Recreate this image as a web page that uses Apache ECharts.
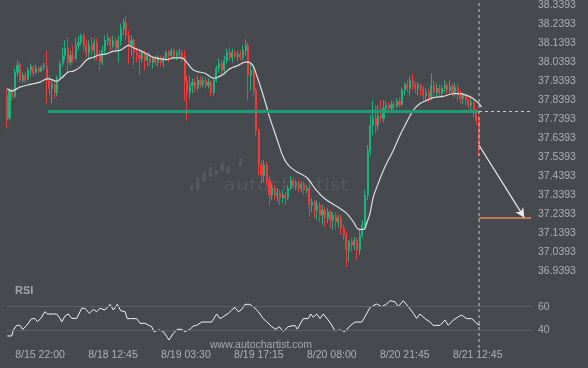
<!DOCTYPE html>
<html><head><meta charset="utf-8">
<script src="https://cdn.jsdelivr.net/npm/echarts@6/dist/echarts.min.js"></script>
<style>html,body{margin:0;padding:0;background:#464a4f;}#c{width:588px;height:368px;}</style>
</head><body><div id="c"></div>
<script>
// 15-minute bar index: 0 = 8/15 22:00; candles every 2 bars starting at -25
const candleStart = -25;
const candleStep = 2;
const open = [37.866,37.746,37.893,37.861,37.987,38.029,37.945,37.971,37.950,37.998,
38.014,37.987,38.008,37.992,38.014,38.019,37.945,37.903,37.924,37.882,
37.956,38.034,38.076,38.113,38.040,38.076,38.061,38.129,38.145,38.181,
38.129,38.092,38.129,38.103,38.145,38.076,38.040,38.103,38.155,38.166,
38.129,38.155,38.113,38.155,38.218,38.250,38.181,38.129,38.155,38.092,
38.076,38.061,38.092,38.050,38.076,38.040,38.061,38.040,38.066,38.040,
38.061,38.092,38.076,38.103,38.071,38.087,38.092,38.071,37.945,37.882,
37.919,37.935,37.903,37.945,37.924,37.945,37.919,37.935,37.882,37.945,
38.008,38.034,37.998,38.050,38.092,38.066,38.092,38.071,38.082,38.066,
38.103,38.129,37.971,37.998,37.893,37.683,37.499,37.446,37.499,37.420,
37.341,37.378,37.341,37.352,37.326,37.341,37.326,37.378,37.420,37.394,
37.404,37.378,37.394,37.368,37.378,37.289,37.305,37.263,37.289,37.236,
37.263,37.221,37.252,37.210,37.236,37.200,37.221,37.168,37.131,37.053,
37.095,37.079,37.105,37.053,37.131,37.184,37.341,37.578,37.709,37.746,
37.709,37.761,37.746,37.798,37.814,37.798,37.819,37.809,37.835,37.819,
37.893,37.924,37.903,37.945,37.919,37.903,37.919,37.893,37.866,37.882,
37.856,37.919,37.882,37.903,37.877,37.903,37.919,37.893,37.914,37.882,
37.908,37.866,37.851,37.866,37.840,37.814,37.830,37.777,37.735];
const close = [37.735,37.893,37.856,37.987,38.024,37.945,37.971,37.945,37.998,38.019,
37.982,38.008,37.992,38.014,38.024,37.945,37.903,37.924,37.882,37.956,
38.034,38.076,38.113,38.040,38.076,38.061,38.129,38.145,38.181,38.129,
38.092,38.129,38.103,38.145,38.076,38.040,38.103,38.155,38.166,38.129,
38.155,38.113,38.155,38.218,38.250,38.181,38.129,38.155,38.092,38.076,
38.061,38.092,38.050,38.076,38.040,38.061,38.040,38.066,38.040,38.061,
38.092,38.076,38.103,38.071,38.087,38.092,38.061,37.945,37.882,37.919,
37.935,37.903,37.945,37.924,37.945,37.919,37.935,37.882,37.945,38.008,
38.034,37.998,38.050,38.092,38.066,38.092,38.071,38.082,38.066,38.103,
38.129,37.971,37.998,37.893,37.683,37.499,37.446,37.499,37.420,37.341,
37.378,37.341,37.352,37.326,37.341,37.326,37.378,37.420,37.394,37.404,
37.378,37.394,37.368,37.378,37.289,37.305,37.263,37.289,37.236,37.263,
37.221,37.252,37.210,37.236,37.200,37.221,37.168,37.131,37.053,37.095,
37.079,37.105,37.053,37.131,37.184,37.341,37.578,37.709,37.746,37.709,
37.761,37.746,37.798,37.814,37.798,37.819,37.809,37.835,37.819,37.893,
37.924,37.903,37.945,37.919,37.903,37.919,37.893,37.866,37.882,37.856,
37.919,37.882,37.903,37.877,37.903,37.919,37.893,37.914,37.882,37.908,
37.866,37.851,37.866,37.840,37.814,37.830,37.777,37.735,37.604];
const low = [37.693,37.735,37.840,37.851,37.966,37.935,37.929,37.929,37.945,37.971,
37.966,37.977,37.982,37.987,37.998,37.824,37.866,37.824,37.851,37.861,
37.945,38.019,38.050,37.987,38.024,38.040,38.050,38.103,38.129,38.103,
38.066,38.061,38.076,38.050,38.050,37.998,38.024,38.087,38.129,38.103,
38.113,38.092,38.040,38.129,38.181,38.155,38.034,38.076,38.024,38.040,
37.971,38.040,37.998,38.019,38.019,38.008,38.024,38.019,38.019,38.014,
38.050,38.040,38.066,38.050,38.050,38.061,38.040,37.840,37.735,37.851,
37.877,37.882,37.893,37.908,37.908,37.903,37.903,37.861,37.866,37.935,
37.987,37.977,37.987,38.034,38.050,38.040,38.061,38.050,38.050,38.050,
38.076,37.840,37.893,37.866,37.656,37.446,37.404,37.410,37.394,37.289,
37.315,37.315,37.305,37.289,37.299,37.289,37.315,37.368,37.378,37.368,
37.357,37.357,37.341,37.352,37.226,37.252,37.221,37.210,37.200,37.184,
37.173,37.194,37.168,37.158,37.158,37.168,37.131,37.105,36.963,36.990,
37.042,37.053,37.000,37.026,37.116,37.158,37.315,37.551,37.656,37.667,
37.683,37.725,37.725,37.777,37.777,37.788,37.788,37.798,37.803,37.809,
37.866,37.882,37.866,37.893,37.877,37.866,37.866,37.840,37.840,37.830,
37.840,37.856,37.856,37.856,37.861,37.882,37.872,37.877,37.861,37.856,
37.840,37.824,37.819,37.814,37.798,37.788,37.751,37.709,37.541];
const high = [37.903,37.903,37.908,38.008,38.050,38.040,37.987,37.987,38.014,38.034,
38.024,38.029,38.019,38.024,38.040,38.103,37.971,37.945,37.945,37.971,
38.050,38.118,38.155,38.171,38.103,38.129,38.166,38.181,38.192,38.192,
38.155,38.155,38.171,38.166,38.166,38.103,38.129,38.181,38.192,38.176,
38.181,38.171,38.181,38.244,38.271,38.286,38.208,38.181,38.166,38.113,
38.103,38.103,38.103,38.092,38.092,38.071,38.076,38.076,38.076,38.076,
38.103,38.103,38.113,38.113,38.103,38.113,38.103,38.103,37.971,37.971,
37.956,37.956,37.971,37.966,37.966,37.961,37.956,37.945,37.956,38.024,
38.061,38.050,38.076,38.113,38.118,38.113,38.103,38.103,38.103,38.129,
38.160,38.145,38.040,38.024,37.903,37.693,37.525,37.525,37.515,37.441,
37.404,37.394,37.378,37.368,37.368,37.357,37.394,37.441,37.436,37.420,
37.420,37.410,37.410,37.394,37.394,37.326,37.315,37.315,37.305,37.289,
37.278,37.273,37.263,37.252,37.252,37.236,37.236,37.184,37.147,37.105,
37.116,37.121,37.116,37.158,37.210,37.368,37.604,37.761,37.840,37.814,
37.814,37.840,37.840,37.835,37.830,37.840,37.840,37.851,37.856,37.908,
37.935,37.945,37.966,37.977,37.935,37.935,37.929,37.914,37.903,37.903,
37.982,37.945,37.929,37.924,37.919,37.945,37.935,37.945,37.929,37.935,
37.924,37.893,37.882,37.877,37.856,37.851,37.840,37.798,37.761];

const maIdx = [-24.7,-21.3,-15.1,-7.5,0,5.8,8.8,12.6,16.4,21.3,25.1,30.2,35.2,40.2,45.2,50.3,55.3,60.3,64.1,66.6,
70.3,75.4,80.4,85.4,90.5,95.5,100.5,106.8,110.6,114.4,118.1,124.4,130.7,133.2,138.2,143.2,149.5,154.5,157.0,160.4,
163.4,167.1,170.9,173.4,175.9,179.7,183.4,187.2,193.5,201.1,207.3,213.6,219.9,226.2,231.2,236.2,240.5,244.3,246.3,248.8,
251.3,255.0,260.1,266.4,271.4,276.5,281.4,286.5,291.5,296.5,304.0,311.6,316.6,321.7,326.7,330.4,333.0];
const maVal = [37.901,37.889,37.910,37.924,37.936,37.954,37.949,37.940,37.959,37.989,37.994,38.015,38.054,38.067,38.080,38.085,38.099,38.103,38.120,38.129,
38.117,38.103,38.085,38.067,38.059,38.054,38.064,38.064,38.041,38.007,37.992,37.983,37.957,37.959,37.977,38.007,38.024,38.041,38.041,38.024,
37.971,37.893,37.805,37.744,37.693,37.614,37.542,37.499,37.464,37.434,37.376,37.329,37.298,37.271,37.245,37.201,37.161,37.161,37.193,37.245,
37.332,37.403,37.490,37.578,37.656,37.726,37.788,37.823,37.840,37.854,37.861,37.875,37.875,37.866,37.849,37.826,37.805];

const rsiIdx = [-24.7,-21.3,-20.1,-17.6,-15.1,-13.0,-10.0,-6.3,-3.8,-2.0,0.5,3.8,5.5,7.5,10.0,12.6,15.1,16.4,18.8,21.3,
23.9,27.7,31.4,33.9,37.2,40.2,42.7,45.2,49.0,52.8,55.3,58.3,60.8,64.1,65.8,69.1,72.9,75.4,79.2,81.6,
84.2,85.9,89.9,93.0,97.3,100.5,103.5,106.8,109.3,113.1,115.6,118.1,121.9,125.7,129.4,133.2,135.7,138.2,142.0,144.5,
147.0,149.5,152.1,154.5,158.3,162.1,164.6,168.3,170.9,174.7,177.9,180.4,183.4,187.2,188.5,192.2,194.0,198.5,202.3,204.1,
206.0,208.6,211.1,213.6,217.3,219.9,222.4,226.2,229.9,233.7,237.5,242.5,245.0,248.8,253.8,257.6,261.4,263.9,267.6,270.1,
273.9,277.7,281.4,284.0,286.5,290.3,294.0,296.5,301.6,305.3,307.8,311.6,315.4,317.9,321.7,325.5,329.2,331.7];
const rsiVal = [35.2,35.2,40.3,44.2,44.2,40.8,44.2,49.9,49.9,47.3,49.9,55.8,53.8,53.8,53.8,53.8,50.1,47.0,52.1,53.8,
50.1,50.1,58.6,58.6,54.4,57.7,55.8,58.6,57.2,62.0,57.2,62.0,56.6,55.8,49.9,49.9,49.9,45.9,45.9,44.5,
43.1,38.9,40.3,38.9,31.8,37.5,40.8,40.8,38.9,40.8,43.7,44.2,47.0,47.0,47.0,53.8,49.9,51.5,54.4,57.2,
59.4,55.8,57.7,62.0,62.0,58.6,55.8,49.9,47.3,43.1,40.8,43.1,38.9,43.1,44.2,44.2,41.0,49.9,49.9,53.8,
51.0,53.8,49.9,53.8,48.7,44.5,39.4,40.3,38.9,43.7,47.0,47.0,51.5,59.4,62.3,60.0,62.3,65.1,64.2,60.0,
65.1,60.0,54.4,50.1,53.8,49.9,47.0,44.2,44.2,48.7,44.2,48.7,51.5,52.9,49.9,49.9,45.9,44.2];

const priceTicks = [36.9393,37.0393,37.1393,37.2393,37.3393,37.4393,37.5393,37.6393,37.7393,37.8393,37.9393,38.0393,38.1393,38.2393,38.3393];
const rsiTicks = [40, 60];
const timeTickIdx = [0,55,110,165,220,275,330];
const timeTickLabels = ['8/15 22:00','8/18 12:45','8/19 03:30','8/19 17:15','8/20 08:00','8/20 21:45','8/21 12:45'];

const supportLevel = 37.782, supportStartIdx = 6;
const forecastFrom = 37.604, forecastTarget = 37.224, forecastEndIdx = 365;

const xMin = -30.16, xMax = 371.68;
const priceMin = 36.9393, priceMax = 38.3393;
const rsiMin = 30, rsiMax = 70;

const candles = open.map((o, i) => [candleStart + i * candleStep, o, close[i], low[i], high[i]]);
const lastIdx = candleStart + (open.length - 1) * candleStep;
const ma = maIdx.map((x, i) => [x, maVal[i]]);
const rsi = rsiIdx.map((x, i) => [x, rsiVal[i]]);

const GREEN = '#1db27e', RED = '#f03a3c', TXT = '#aeb0b3', FONT = 'Liberation Sans';
const chart = echarts.init(document.getElementById('c'), null, {renderer: 'canvas'});
const hidden = {show: false};
chart.setOption({
  backgroundColor: '#464a4f',
  animation: false,
  grid: [
    {left: 0, width: 533, top: 4.9, height: 266.6},
    {left: 0, width: 533, top: 294.9, height: 47.2}
  ],
  xAxis: [
    {type: 'value', gridIndex: 0, min: xMin, max: xMax, axisLine: hidden, axisTick: hidden, axisLabel: hidden, splitLine: hidden},
    {type: 'value', gridIndex: 1, min: xMin, max: xMax, axisLine: hidden, axisTick: hidden, splitLine: hidden,
     axisLabel: {customValues: timeTickIdx, formatter: v => timeTickLabels[timeTickIdx.indexOf(v)] || '',
       color: TXT, fontSize: 10.5, fontFamily: FONT, margin: 8}}
  ],
  yAxis: [
    {type: 'value', gridIndex: 0, position: 'right', min: priceMin, max: priceMax, axisLine: hidden, axisTick: hidden, splitLine: hidden,
     axisLabel: {customValues: priceTicks, formatter: v => v.toFixed(4), color: TXT, fontSize: 10.5, fontFamily: FONT, margin: 5}},
    {type: 'value', gridIndex: 1, position: 'right', min: rsiMin, max: rsiMax, axisLine: hidden, axisTick: hidden, splitLine: hidden,
     axisLabel: {customValues: rsiTicks, formatter: v => String(v), color: TXT, fontSize: 10.5, fontFamily: FONT, margin: 5}}
  ],
  graphic: [
    {id: 'wm', type: 'group', z: 0, silent: true, children: [
      {type: 'rect', shape: {x: 190, y: 185, width: 3.5, height: 5, r: 1}, style: {fill: '#55595e'}},
      {type: 'rect', shape: {x: 196, y: 177, width: 3.5, height: 13, r: 1}, style: {fill: '#55595e'}},
      {type: 'rect', shape: {x: 202.5, y: 172, width: 3.5, height: 10, r: 1}, style: {fill: '#55595e'}},
      {type: 'rect', shape: {x: 208.5, y: 167, width: 3.5, height: 10, r: 1}, style: {fill: '#55595e'}},
      {type: 'rect', shape: {x: 214.5, y: 170, width: 3.5, height: 5, r: 1}, style: {fill: '#55595e'}},
      {type: 'rect', shape: {x: 220.5, y: 163, width: 3.5, height: 9, r: 1}, style: {fill: '#55595e'}},
      {type: 'rect', shape: {x: 226.5, y: 166, width: 3.5, height: 8, r: 1}, style: {fill: '#55595e'}},
      {type: 'rect', shape: {x: 239, y: 158, width: 3.5, height: 8, r: 1}, style: {fill: '#55595e'}},
      {type: 'text', x: 223, y: 186, scaleX: 1.3, style: {text: 'autochartist', fill: '#55595e', font: '16px "DejaVu Sans"', textVerticalAlign: 'middle'}}
    ]},
    {id: 'rsiTitle', type: 'text', x: 15, y: 291, silent: true, style: {text: 'RSI', fill: '#a3a6a9', font: 'bold 11px "Liberation Sans"', textVerticalAlign: 'middle'}},
    {id: 'site', type: 'text', x: 210, y: 345, silent: true, style: {text: 'www.autochartist.com', fill: '#a5a7aa', font: '10.5px "Liberation Sans"', textVerticalAlign: 'middle'}}
  ],
  series: [
    {
      type: 'candlestick', xAxisIndex: 0, yAxisIndex: 0, data: candles,
      encode: {x: 0, y: [1, 2, 3, 4]}, barWidth: 1.6,
      itemStyle: {color: GREEN, color0: RED, borderColor: GREEN, borderColor0: RED, borderWidth: 1},
      markLine: {
        silent: true, symbol: 'none', label: {show: false}, animation: false,
        data: [
          [{coord: [supportStartIdx, supportLevel], lineStyle: {color: '#1f9d72', width: 3, type: 'solid'}}, {coord: [lastIdx, supportLevel]}],
          [{coord: [lastIdx, supportLevel], lineStyle: {color: '#c8c8c8', width: 1, type: [3, 3]}}, {coord: [xMax, supportLevel]}],
          [{coord: [lastIdx, forecastTarget], lineStyle: {color: '#e8875a', width: 1.5, type: 'solid'}}, {coord: [xMax - 1.5, forecastTarget]}]
        ]
      },
      z: 3
    },
    {
      type: 'line', xAxisIndex: 0, yAxisIndex: 0, data: ma, showSymbol: false, smooth: 0.3,
      lineStyle: {color: '#dedede', width: 1.2}, z: 4,
      markLine: {
        silent: true, symbol: ['none', 'arrow'], symbolSize: [7, 9], label: {show: false}, animation: false,
        lineStyle: {color: '#ececec', width: 1.2, type: 'solid'},
        data: [[{coord: [lastIdx, forecastFrom]}, {coord: [forecastEndIdx, forecastTarget]}]]
      }
    },
    {
      type: 'line', xAxisIndex: 1, yAxisIndex: 1, data: rsi, showSymbol: false,
      lineStyle: {color: '#f2f2f2', width: 1}, z: 4,
      markLine: {
        silent: true, symbol: 'none', label: {show: false}, animation: false,
        lineStyle: {color: '#5d6065', width: 1, type: 'solid'},
        data: rsiTicks.map(v => [{coord: [candleStart, v]}, {coord: [xMax, v]}])
      }
    }
  ]
});
const vx = chart.convertToPixel({xAxisIndex: 0}, lastIdx);
chart.setOption({graphic: [{id: 'vline', type: 'line', silent: true, z: 10, shape: {x1: vx, y1: 3, x2: vx, y2: 350},
  style: {stroke: '#c8c8c8', lineWidth: 1, lineDash: [3, 3]}}]});
</script></body></html>
